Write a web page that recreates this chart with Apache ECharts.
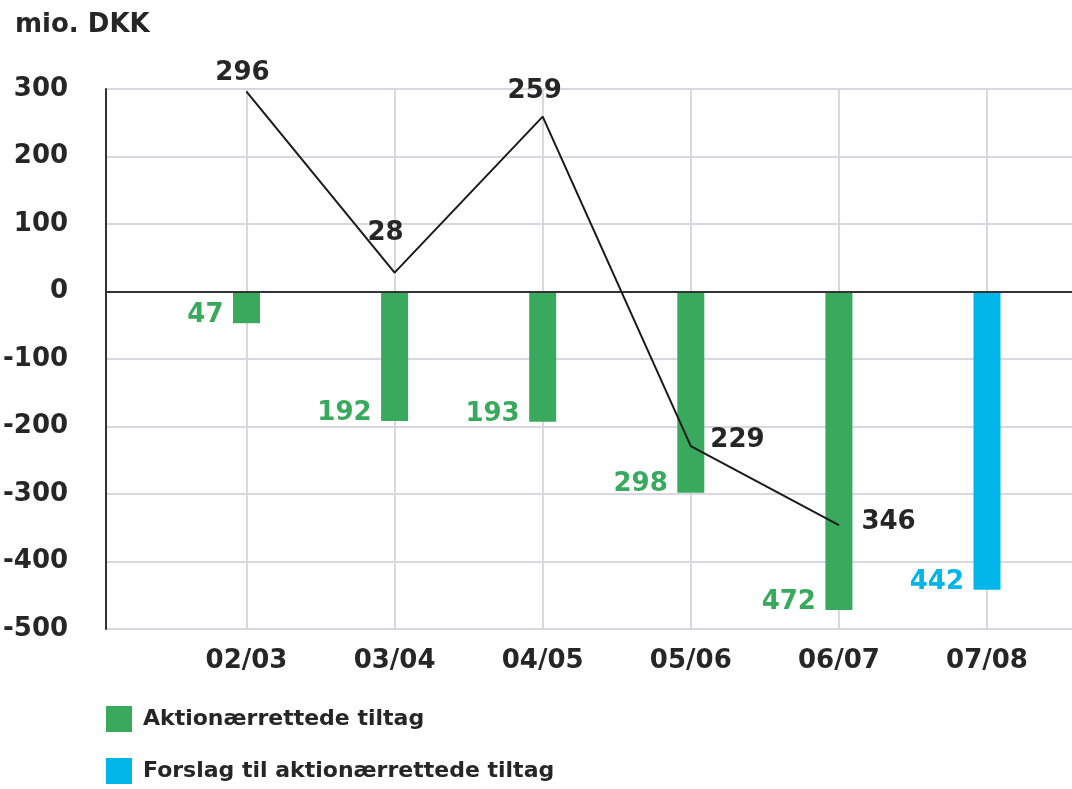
<!DOCTYPE html>
<html>
<head>
<meta charset="utf-8">
<script src="https://cdn.jsdelivr.net/npm/echarts@6/dist/echarts.min.js"></script>
<style>
  html, body { margin: 0; padding: 0; background: #fff; }
  #chart { width: 1072px; height: 789px; }
</style>
</head>
<body>
<div id="chart"></div>
<script>
// data
const categories = ['02/03', '03/04', '04/05', '05/06', '06/07', '07/08']
const actionValues = [-47, -192, -193, -298, -472, null]
const proposalValues = [null, null, null, null, null, -442]
const lineValues = [296, 28, 259, -229, -346, null]
const seriesNames = ['Aktionærrettede tiltag', 'Forslag til aktionærrettede tiltag']
const yMin = -500
const yMax = 300
const yStep = 100

const FONT = "'DejaVu Sans', sans-serif"
const GREEN = '#38a95d'
const BLUE = '#00b5e8'
const DARK = '#262626'
const GRID = '#d9d8e1'

// where each line label sits relative to its point
const linePlacement = [
    { position: 'top', distance: 5, offset: [-4, 0] },
    { position: 'top', distance: 26, offset: [-9, 0] },
    { position: 'top', distance: 12, offset: [-8, 0] },
    { position: 'right', distance: 19, offset: [0, -6] },
    { position: 'right', distance: 22, offset: [0, -3] }
]

function absLabel(p) {
    return Math.abs(p.value)
}

function barLabelSeries(values, color) {
    return {
        type: 'scatter',
        xAxisIndex: 1,
        yAxisIndex: 1,
        silent: true,
        symbolSize: 0,
        z: 10,
        itemStyle: { opacity: 1 },
        data: values,
        label: {
            show: true,
            position: 'left',
            distance: 23,
            verticalAlign: 'bottom',
            offset: [0, 5],
            formatter: absLabel,
            color: color,
            fontFamily: FONT,
            fontWeight: 'bold',
            fontSize: 26
        }
    }
}

const lineData = []
for (let i in lineValues) {
    if (lineValues[i] === null) continue
    let pl = linePlacement[i]
    lineData.push({
        value: lineValues[i],
        label: { position: pl.position, distance: pl.distance, offset: pl.offset }
    })
}

var chart = echarts.init(document.getElementById('chart'))
chart.setOption({
    backgroundColor: '#fff',
    animation: false,
    title: {
        text: 'mio. DKK',
        left: 10,
        top: 7,
        textStyle: { fontFamily: FONT, fontWeight: 'bold', fontSize: 26, color: DARK }
    },
    legend: {
        orient: 'vertical',
        left: 106,
        top: 706,
        padding: 0,
        itemWidth: 26,
        itemHeight: 26,
        itemGap: 26,
        icon: 'rect',
        data: seriesNames,
        textStyle: { fontFamily: FONT, fontWeight: 'bold', fontSize: 22, color: DARK, padding: [3, 0, 0, 6] }
    },
    grid: [
        { left: 106, right: 0, top: 89, bottom: 160 },
        { left: 246.5, right: 85, top: 89, bottom: 160 }
    ],
    xAxis: [
        {
            type: 'value',
            gridIndex: 0,
            min: 0,
            max: 1,
            z: 5,
            axisLine: { show: true, onZero: true, lineStyle: { color: '#333', width: 2 } },
            axisTick: { show: false },
            axisLabel: { show: false },
            splitLine: { show: false }
        },
        {
            type: 'category',
            gridIndex: 1,
            data: categories,
            boundaryGap: false,
            axisLine: { show: false },
            axisTick: { show: false },
            splitLine: { show: true, lineStyle: { color: GRID, width: 2 } },
            axisLabel: {
                margin: 19,
                fontFamily: FONT,
                fontWeight: 'bold',
                fontSize: 26,
                color: DARK
            }
        }
    ],
    yAxis: [
        {
            type: 'value',
            gridIndex: 0,
            min: yMin,
            max: yMax,
            interval: yStep,
            axisLine: { show: true, lineStyle: { color: '#333', width: 2 } },
            axisTick: { show: false },
            splitLine: { show: true, lineStyle: { color: GRID, width: 2 } },
            axisLabel: {
                margin: 38,
                fontFamily: FONT,
                fontWeight: 'bold',
                fontSize: 26,
                color: DARK
            }
        },
        {
            type: 'value',
            gridIndex: 1,
            min: yMin,
            max: yMax,
            interval: yStep,
            show: false
        }
    ],
    series: [
        {
            name: seriesNames[0],
            type: 'bar',
            xAxisIndex: 1,
            yAxisIndex: 1,
            barWidth: 27,
            barGap: '-100%',
            itemStyle: { color: GREEN },
            data: actionValues
        },
        {
            name: seriesNames[1],
            type: 'bar',
            xAxisIndex: 1,
            yAxisIndex: 1,
            barWidth: 27,
            barGap: '-100%',
            itemStyle: { color: BLUE },
            data: proposalValues
        },
        barLabelSeries(actionValues, GREEN),
        barLabelSeries(proposalValues, BLUE),
        {
            name: 'line',
            type: 'line',
            xAxisIndex: 1,
            yAxisIndex: 1,
            symbol: 'circle',
            symbolSize: 1,
            z: 8,
            itemStyle: { color: '#1a1a1a' },
            lineStyle: { color: '#1a1a1a', width: 2 },
            data: lineData,
            label: {
                show: true,
                formatter: absLabel,
                fontFamily: FONT,
                fontWeight: 'bold',
                fontSize: 26,
                color: DARK
            }
        }
    ]
})
</script>
</body>
</html>
